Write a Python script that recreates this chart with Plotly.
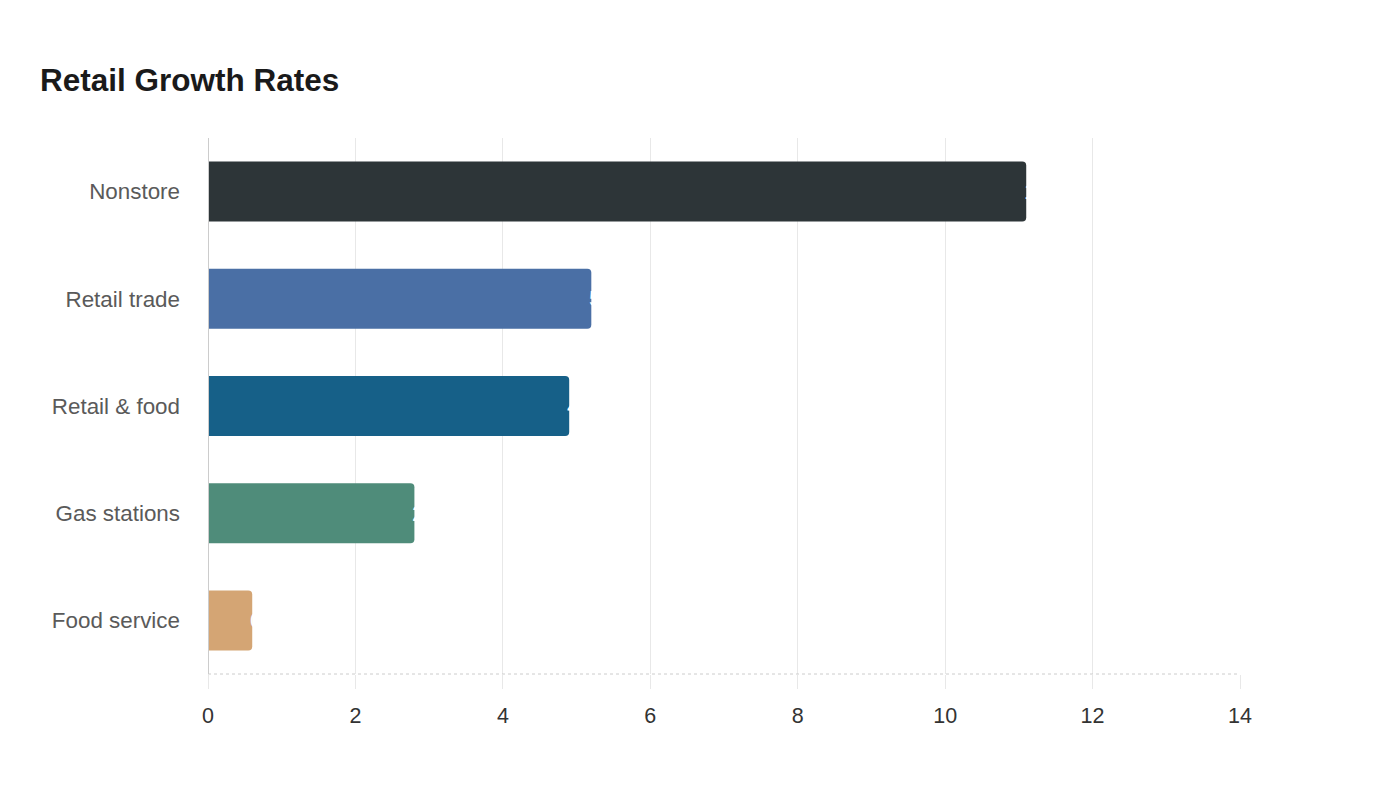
import plotly.graph_objects as go

categories = ["Nonstore", "Retail trade", "Retail & food", "Gas stations", "Food service"]
growth = [11.1, 5.2, 4.9, 2.8, 0.6]
bar_colors = ["#2d3538", "#4a6fa5", "#166088", "#4f8c7a", "#d4a574"]
x_ticks = [0, 2, 4, 6, 8, 10, 12, 14]

FONT = "Liberation Sans, Arial, sans-serif"

fig = go.Figure()
fig.add_trace(go.Bar(
    x=growth,
    y=categories,
    orientation="h",
    marker=dict(color=bar_colors, line=dict(width=0)),
    hoverinfo="x+y",
))

# value labels in white, sitting right at the end of each bar (mostly lost on the white background)
for cat, val in zip(categories, growth):
    fig.add_annotation(
        x=val, y=cat, xref="x", yref="y",
        text=str(val), showarrow=False,
        xanchor="left", xshift=-4,
        font=dict(color="white", size=22, family=FONT),
    )

# dotted baseline along the bottom of the plot area
fig.add_shape(
    type="line", xref="paper", yref="paper",
    x0=0, x1=1, y0=0, y1=0,
    line=dict(color="#cccccc", width=1, dash="dot"),
)

fig.update_layout(
    width=1400,
    height=800,
    paper_bgcolor="white",
    plot_bgcolor="white",
    margin=dict(l=200, r=168, t=130, b=134),
    barcornerradius=4,
    bargap=0.44,
    showlegend=False,
    font=dict(family=FONT, size=22, color="#555555"),
    title=dict(
        text="<b>Retail Growth Rates</b>",
        x=32 / 1400, xanchor="left", xref="container",
        y=1 - 72 / 800, yanchor="middle", yref="container",
        font=dict(size=31.5, color="#1a1a1a", family=FONT),
    ),
    xaxis=dict(
        range=[0, 14],
        tickvals=x_ticks,
        showgrid=True,
        gridcolor="#e8e8e8",
        gridwidth=1,
        zeroline=False,
        showline=False,
        ticks="outside",
        ticklen=14,
        tickcolor="#e8e8e8",
        ticklabelstandoff=8,
        tickfont=dict(size=21.5, color="#333333"),
    ),
    yaxis=dict(
        categoryorder="array",
        categoryarray=categories[::-1],
        showgrid=False,
        zeroline=False,
        showline=False,
        ticks="",
        ticklabelstandoff=27,
        tickfont=dict(size=22.4, color="#5a5a5a"),
    ),
)

# solid grey axis line at x = 0
fig.add_shape(
    type="line", xref="x", yref="paper",
    x0=0, x1=0, y0=0, y1=1,
    line=dict(color="#cccccc", width=2),
)

fig.write_html("out.html")
